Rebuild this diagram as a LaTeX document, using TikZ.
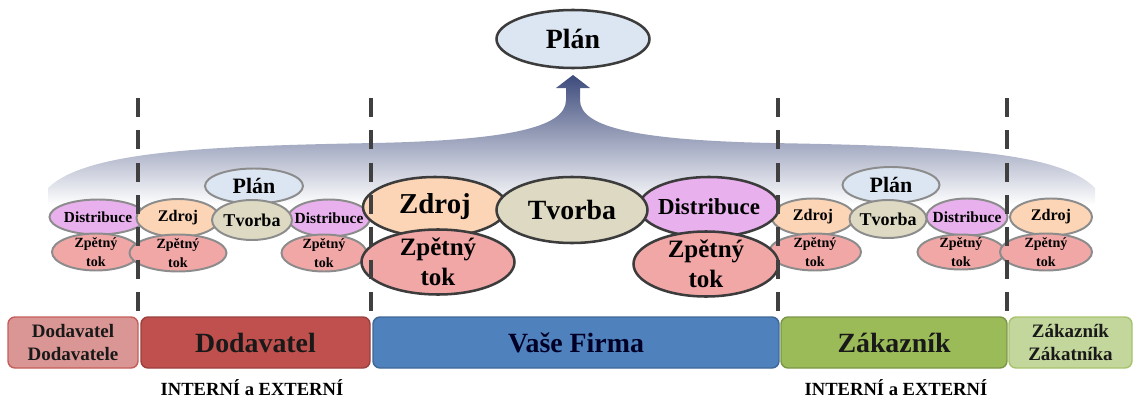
\documentclass[tikz,border=0pt]{standalone}
\usepackage{fontspec}
\setmainfont{Liberation Serif}
\usepackage{tikz}
\usetikzlibrary{shapes.geometric}

\definecolor{planfill}{HTML}{DCE6F2}
\definecolor{zdrojfill}{HTML}{FBD5B5}
\definecolor{tvorbafill}{HTML}{DDD9C3}
\definecolor{distfill}{HTML}{E8B0EC}
\definecolor{tokfill}{HTML}{F2A7A7}
\definecolor{elgray}{HTML}{8C8C8C}
\definecolor{eldark}{HTML}{3C3C3C}
\definecolor{fantop}{HTML}{3D4B7C}
\definecolor{fanmid}{HTML}{D9DCE4}
\definecolor{dashgray}{HTML}{404040}
\definecolor{pinkbar}{HTML}{D99694}
\definecolor{redbar}{HTML}{C0504D}
\definecolor{bluebar}{HTML}{4F81BD}
\definecolor{greenbar}{HTML}{9BBB59}
\definecolor{lightbar}{HTML}{C3D69B}

\begin{document}
\begin{tikzpicture}[x=0.025cm,y=-0.025cm,
  el/.style={ellipse,draw=elgray,line width=1.4pt,inner xsep=-8pt,inner ysep=-4pt,
    font=\bfseries,align=center},
  bigel/.style={el,draw=eldark,line width=1.8pt},
  sz/.style 2 args={minimum width=#1*0.025cm,minimum height=#2*0.025cm},
  bar/.style={rectangle,rounded corners=5pt,line width=1pt,font=\bfseries,align=center,
    minimum height=51*0.025cm}]

  \useasboundingbox (0,0) rectangle (1134,401);

  % fan with arrow up to the plan
  \shade[top color=fantop,middle color=fanmid,bottom color=white]
    (573,75) -- (590,88) -- (580,88) -- (580,100)
    .. controls (580,128) and (640,140) .. (770,143)
    .. controls (950,146) and (1060,152) .. (1095,188) -- (1095,205) -- (48,205) -- (48,188)
    .. controls (85,152) and (200,146) .. (376,143)
    .. controls (506,140) and (566,128) .. (566,100) -- (566,88) -- (556,88) -- cycle;

  \node[bigel,sz={153}{58},fill=planfill,font=\bfseries\fontsize{19.8}{22}\selectfont] (p) at (573,39) {Plán};

  % small clusters, first row
  \node[el,sz={97}{35},fill=distfill,font=\bfseries\fontsize{10.9}{12}\selectfont] (a1) at (98,217) {Distribuce};
  \node[el,sz={83}{38},fill=zdrojfill,font=\bfseries\fontsize{11.5}{13}\selectfont] (b1) at (178,218) {Zdroj};
  \node[el,sz={82}{37},fill=distfill,font=\bfseries\fontsize{11}{12}\selectfont] (b4) at (329,218) {Distribuce};
  \node[el,sz={83}{37},fill=zdrojfill,font=\bfseries\fontsize{11.5}{13}\selectfont] (d1) at (813,217) {Zdroj};
  \node[el,sz={81}{37},fill=distfill,font=\bfseries\fontsize{11}{12}\selectfont] (d4) at (967,217) {Distribuce};
  \node[el,sz={82}{37},fill=zdrojfill,font=\bfseries\fontsize{11.5}{13}\selectfont] (e1) at (1051,217) {Zdroj};

  \node[el,sz={98}{35},fill=planfill,font=\bfseries\fontsize{15.6}{17}\selectfont] (b0) at (254,186) {Plán};
  \node[el,sz={97}{36},fill=planfill,font=\bfseries\fontsize{15.6}{17}\selectfont] (d0) at (891,185) {Plán};
  \node[el,sz={80}{40},fill=tvorbafill,font=\bfseries\fontsize{12.8}{14}\selectfont] (b3) at (252,220) {Tvorba};
  \node[el,sz={77}{38},fill=tvorbafill,font=\bfseries\fontsize{12.8}{14}\selectfont] (d3) at (888,219) {Tvorba};

  % small clusters, second row
  \tikzset{smalltok/.style={el,fill=tokfill,font=\bfseries\fontsize{10}{13.5}\selectfont}}
  \node[smalltok,sz={88}{37}] (a2) at (96,252) {Zpětný\\tok};
  \node[smalltok,sz={97}{37}] (b2) at (178,253) {Zpětný\\tok};
  \node[smalltok,sz={85}{37}] (b5) at (324,253) {Zpětný\\tok};
  \node[smalltok,sz={92}{37}] (d2) at (815,252) {Zpětný\\tok};
  \node[smalltok,sz={87}{35}] (d5) at (961,252) {Zpětný\\tok};
  \node[smalltok,sz={92}{37}] (e2) at (1046,252) {Zpětný\\tok};

  % the firm in the middle
  \node[bigel,sz={144}{60},fill=zdrojfill,font=\bfseries\fontsize{20.5}{22}\selectfont] (c1) at (435,207) {Zdroj};
  \node[bigel,sz={140}{60},fill=distfill,font=\bfseries\fontsize{16.3}{18}\selectfont] (c3) at (709,207) {Distribuce};
  \node[bigel,sz={151}{66},fill=tvorbafill,font=\bfseries\fontsize{19.8}{22}\selectfont] (c2) at (572,210) {Tvorba};
  \node[bigel,sz={153}{65},fill=tokfill,font=\bfseries\fontsize{17.8}{21}\selectfont] (c4) at (438,262) {Zpětný\\tok};
  \node[bigel,sz={145}{65},fill=tokfill,font=\bfseries\fontsize{17.8}{21}\selectfont] (c5) at (706,264) {Zpětný\\tok};

  % separators
  \foreach \x in {138,371,778,1007}
    \draw[dashgray,line width=2.8pt,dash pattern=on 13.5pt off 9.5pt] (\x,98) -- (\x,316);

  % bars
  \node[bar,minimum width=130*0.025cm,fill=pinkbar,draw=redbar!80!pinkbar,
    font=\bfseries\fontsize{13.5}{16.3}\selectfont,text=black!90] (q1) at (73,342.5) {Dodavatel\\Dodavatele};
  \node[bar,minimum width=229*0.025cm,fill=redbar,draw=redbar!80!black,
    font=\bfseries\fontsize{19.8}{22}\selectfont,text=black!90] (q2) at (255.5,342.5) {Dodavatel};
  \node[bar,minimum width=406*0.025cm,fill=bluebar,draw=bluebar!80!black,
    font=\bfseries\fontsize{19.8}{22}\selectfont,text=black!85!blue] (q3) at (576,342.5) {Vaše Firma};
  \node[bar,minimum width=226*0.025cm,fill=greenbar,draw=greenbar!80!black,
    font=\bfseries\fontsize{19.8}{22}\selectfont,text=black!90] (q4) at (894,342.5) {Zákazník};
  \node[bar,minimum width=123*0.025cm,fill=lightbar,draw=greenbar!70!lightbar,
    font=\bfseries\fontsize{13.5}{16.3}\selectfont,text=black!90] (q5) at (1070.5,342.5) {Zákazník\\Zákatníka};

  \node[font=\bfseries\fontsize{13.2}{15}\selectfont] (r1) at (252,388) {INTERNÍ a EXTERNÍ};
  \node[font=\bfseries\fontsize{13.2}{15}\selectfont] (r2) at (896,388) {INTERNÍ a EXTERNÍ};

\end{tikzpicture}
\end{document}
